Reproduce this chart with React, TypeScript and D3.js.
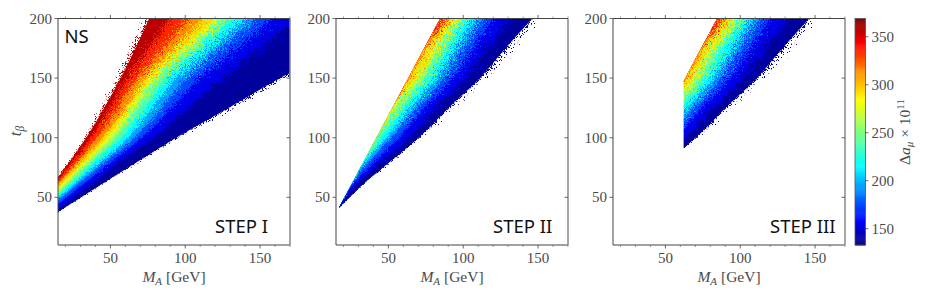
import React from "react";
import * as d3 from "d3";

// tan beta rows the band edges were read at
const nsRows = [30, 40, 50, 60, 80, 100, 125, 150, 175, 200];
const twoRows = [41.5, 50, 60, 80, 100, 125, 150, 175, 200];

// Delta a_mu levels, one per band edge (left to right inside a row)
const levels = [369, 345, 325, 305, 285, 265, 245, 225, 205, 185, 165, 145, 133];

// M_A where each level sits on each row, step I (NS)
const nsEdges = [
  [-5, 0.4, 6, 11.6, 23, 34, 46, 57, 67, 76],
  [-7, -0.4, 6, 12.4, 25, 37, 50, 62, 76, 90],
  [-8, -0.6, 6.5, 13.6, 28, 41, 55, 68, 85, 103],
  [-7, 0, 7.5, 15, 30, 45, 60, 73, 92, 112],
  [-6, 2, 9.6, 17, 33, 48, 63, 77, 98, 120],
  [-5, 3, 11, 19, 35, 51, 66, 80, 102, 124],
  [-4, 4, 12.5, 21, 38, 54, 69, 84, 106, 128],
  [-4, 5, 14, 23, 40, 58, 74, 89, 111, 134],
  [-3, 7, 16, 25, 44, 62, 78, 94, 117, 141],
  [-1, 8, 18, 27.5, 47, 66, 84, 101, 124, 148],
  [1, 11, 21, 31, 51, 71, 91, 110, 134, 158],
  [4, 15, 25, 36, 57, 79, 102, 125, 150, 175],
  [5, 17.5, 30, 42.5, 68, 93.6, 128.6, 163, 200, 240],
];

// same, step II (the wedge starts near M_A = 17)
const twoEdges = [
  [17, 20.6, 24.9, 33.4, 41.9, 52.5, 63.2, 73.8, 84.4],
  [17, 20.6, 24.9, 33.4, 41.9, 52.5, 63.2, 73.8, 85],
  [17, 20.6, 24.9, 33.4, 41.9, 52.5, 63.2, 73.8, 88],
  [17, 20.6, 24.9, 33.4, 41.9, 52.5, 64.5, 76, 91],
  [17, 20.6, 24.9, 33.4, 41.9, 53, 68, 80, 95],
  [17, 20.6, 24.9, 33.4, 41.9, 54.5, 70.5, 83, 98],
  [17, 20.6, 24.9, 33.4, 42.5, 57.5, 74, 86, 101],
  [17, 20.6, 24.9, 33.4, 46, 61, 78, 90, 104],
  [17, 20.6, 24.9, 34.5, 49, 65, 82, 95, 108],
  [17, 20.6, 25, 37, 52, 69, 87, 100, 113],
  [17, 21, 26, 41, 57, 74, 93, 106, 120],
  [17, 22, 28.5, 46, 64, 82, 102, 116, 132],
  [17, 24, 32, 51, 70, 90, 111, 128, 146],
];

const xTicks = [50, 100, 150];
const xMinor = [20, 30, 40, 60, 70, 80, 90, 110, 120, 130, 140, 160, 170];
const yTicks = [50, 100, 150, 200];
const barTicks = [150, 200, 250, 300, 350];

const panelLefts = [58, 336, 613];
const panelNames = ["STEP I", "STEP II", "STEP III"];
const stepThreeMinMA = 62.3;

// the scatter gets grainier going up in tan beta
const grainFrom = [10, 70, 110, 150];
const grainTo = [70, 110, 150, 200];
const grainScale = [4, 10, 20, 34];

const W = 232;
const top = 18.5;
const bottom = 245;
const textGray = "#4a4a4a";
const serif = "'Liberation Serif', serif";
const sans = "'Noto Sans', sans-serif";

const x = d3.scaleLinear().domain([15, 170]).range([0, W]);
const y = d3.scaleLinear().domain([10, 200]).range([bottom, top]);
const barScale = d3.scaleLinear().domain([133, 369]).range([bottom, top]);
const jet = d3
  .scaleLinear<string>()
  .domain([0, 0.11, 0.35, 0.5, 0.64, 0.77, 0.89, 1])
  .range(["#00007f", "#0000ff", "#00ffff", "#7fff7f", "#ffff00", "#ff8c00", "#ff0000", "#7f0000"]);
const color = (v: number) => jet((v - 133) / 236);

function Bands({ edges, rows, filter }: { edges: number[][]; rows: number[]; filter?: string }) {
  const area = d3.area<number>().y((d) => y(d)).curve(d3.curveMonotoneY);
  return (
    <g filter={filter}>
      {levels.slice(1).map((lv, k) => {
        const a = edges[k];
        const b = edges[k + 1];
        const path = area.x0((_, i) => x(a[i])).x1((_, i) => x(b[i]))(rows);
        const c = color((levels[k] + lv) / 2);
        return <path key={lv} d={path || ""} fill={c} stroke={c} strokeWidth={0.5} />;
      })}
    </g>
  );
}

function Panel({ idx }: { idx: number }) {
  const left = panelLefts[idx];
  const clipLeft = idx === 2 ? x(stepThreeMinMA) : 0;
  const edges = idx === 0 ? nsEdges : twoEdges;
  const rows = idx === 0 ? nsRows : twoRows;
  // step II/III have a sharp cut on the upper side, NS does not
  const cut = d3
    .area<number>()
    .y((d) => y(d))
    .x0((_, i) => x(edges[0][i]))
    .x1(() => W + 20)(rows);
  return (
    <g transform={`translate(${left},0)`}>
      <clipPath id={`clip${idx}`}>
        <rect x={clipLeft} y={top} width={W - clipLeft} height={bottom - top} />
      </clipPath>
      <clipPath id={`cut${idx}`}>
        <path d={cut || ""} />
      </clipPath>
      {grainFrom.map((from, g) => (
        <clipPath key={g} id={`layer${idx}-${g}`}>
          <rect x={-20} y={y(grainTo[g])} width={W + 40} height={y(from) - y(grainTo[g])} />
        </clipPath>
      ))}
      <g clipPath={`url(#clip${idx})`}>
        <g clipPath={idx === 0 ? undefined : `url(#cut${idx})`}>
          <Bands edges={edges} rows={rows} />
          {grainFrom.map((_, g) => (
            <g key={g} clipPath={`url(#layer${idx}-${g})`}>
              <Bands edges={edges} rows={rows} filter={`url(#grain${g})`} />
            </g>
          ))}
        </g>
      </g>
      <line x1={0} x2={W} y1={top} y2={top} stroke="#444" strokeWidth={1} />
      <line x1={0} x2={W} y1={bottom} y2={bottom} stroke="#444" strokeWidth={1} />
      <line x1={0} x2={0} y1={top} y2={bottom} stroke="#444" strokeWidth={1} />
      <line x1={W} x2={W} y1={top} y2={bottom} stroke="#888" strokeWidth={1.5} />
      {xTicks.map((t) => (
        <g key={t}>
          <line x1={x(t)} x2={x(t)} y1={bottom} y2={bottom + 3.5} stroke="#444" strokeWidth={0.8} />
          <line x1={x(t)} x2={x(t)} y1={top} y2={top - 3.5} stroke="#444" strokeWidth={0.8} />
          <text x={x(t)} y={263} textAnchor="middle" fontSize={15} fill={textGray}>
            {t}
          </text>
        </g>
      ))}
      {xMinor.map((t) => (
        <g key={t}>
          <line x1={x(t)} x2={x(t)} y1={bottom} y2={bottom + 2} stroke="#555" strokeWidth={0.6} />
          <line x1={x(t)} x2={x(t)} y1={top} y2={top - 2} stroke="#555" strokeWidth={0.6} />
        </g>
      ))}
      {yTicks.map((t) => (
        <g key={t}>
          <line x1={0} x2={-3.5} y1={y(t)} y2={y(t)} stroke="#444" strokeWidth={0.8} />
          <line x1={W} x2={W - 3.5} y1={y(t)} y2={y(t)} stroke="#444" strokeWidth={0.8} />
          <text x={-6} y={y(t) + 5} textAnchor="end" fontSize={15} fill={textGray}>
            {t}
          </text>
        </g>
      ))}
      <text x={W / 2} y={282} textAnchor="middle" fontSize={15.5} fill={textGray}>
        <tspan fontStyle="italic">M</tspan>
        <tspan fontStyle="italic" fontSize={11} dy={3}>A</tspan>
        <tspan dy={-3}> [GeV]</tspan>
      </text>
      <text x={157} y={233} fontSize={18.5} fontFamily={sans} fill="#111">
        {panelNames[idx]}
      </text>
    </g>
  );
}

function ColorBar() {
  const barX = 855;
  const barW = 10.5;
  const vals = d3.range(133, 369, 1);
  return (
    <g>
      {vals.map((v) => (
        <rect key={v} x={barX} y={barScale(v + 1)} width={barW} height={barScale(v) - barScale(v + 1) + 0.5} fill={color(v + 0.5)} />
      ))}
      <rect x={barX} y={top} width={barW} height={bottom - top} fill="none" stroke="#555" strokeWidth={0.8} />
      {barTicks.map((t) => (
        <g key={t}>
          <line x1={barX + barW} x2={barX + barW + 3} y1={barScale(t)} y2={barScale(t)} stroke="#444" strokeWidth={0.8} />
          <text x={barX + barW + 6} y={barScale(t) + 5} fontSize={15} fill={textGray}>
            {t}
          </text>
        </g>
      ))}
      <text transform="translate(910,132) rotate(-90)" textAnchor="middle" fontSize={15.5} fill={textGray}>
        Δ<tspan fontStyle="italic">a</tspan>
        <tspan fontStyle="italic" fontSize={11} dy={3}>μ</tspan>
        <tspan dy={-3}> × 10</tspan>
        <tspan fontSize={11} dy={-6}>11</tspan>
      </text>
    </g>
  );
}

export default function App() {
  return (
    <svg
      width={927}
      height={298}
      style={{ position: "absolute", left: 0, top: 0, background: "#fff", fontFamily: serif }}
    >
      <defs>
        {grainScale.map((s, g) => (
          <filter key={g} id={`grain${g}`} x="-10%" y="-10%" width="120%" height="120%">
            <feTurbulence type="fractalNoise" baseFrequency={1.3} numOctaves={1} seed={3 + g} result="n" />
            <feDisplacementMap in="SourceGraphic" in2="n" scale={s} xChannelSelector="R" yChannelSelector="G" />
          </filter>
        ))}
      </defs>
      {panelLefts.map((_, i) => (
        <Panel key={i} idx={i} />
      ))}
      <text x={64.5} y={42.5} fontSize={18.5} fontFamily={sans} fill="#111">
        NS
      </text>
      <text transform="translate(21,131) rotate(-90)" textAnchor="middle" fontSize={16.5} fill={textGray}>
        <tspan fontStyle="italic">t</tspan>
        <tspan fontStyle="italic" fontSize={11.5} dy={3}>β</tspan>
      </text>
      <ColorBar />
    </svg>
  );
}
